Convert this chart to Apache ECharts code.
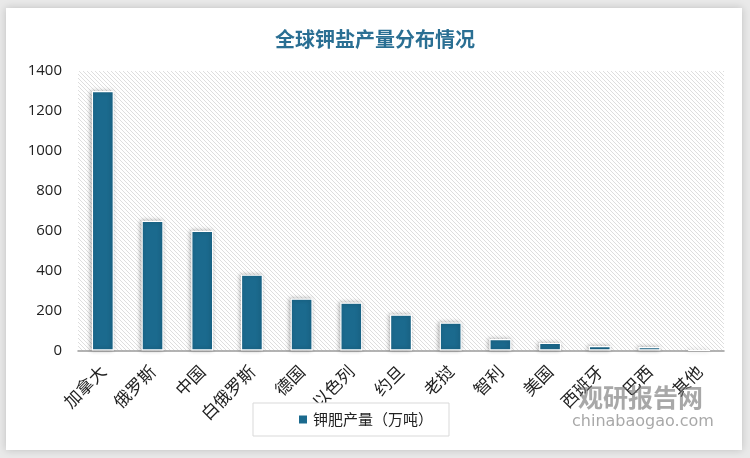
<!DOCTYPE html>
<html>
<head>
<meta charset="utf-8">
<style>
html,body{margin:0;padding:0;background:#e9e9e9;}
#main{width:750px;height:458px;}
</style>
<script src="https://cdn.jsdelivr.net/npm/echarts@6/dist/echarts.min.js"></script>
</head>
<body>
<div id="main"></div>
<script>
const titleText = '全球钾盐产量分布情况';
const seriesName = '钾肥产量（万吨）';
const categories = ['加拿大','俄罗斯','中国','白俄罗斯','德国','以色列','约旦','老挝','智利','美国','西班牙','巴西','其他'];
const values = [1300, 650, 600, 380, 260, 240, 180, 140, 57, 38, 22, 17, 0];
const yTicks = {min: 0, max: 1400, interval: 200};

// hatch pattern for plot background
const pc = document.createElement('canvas');
pc.width = 4; pc.height = 4;
const pctx = pc.getContext('2d');
pctx.fillStyle = '#ffffff';
pctx.fillRect(0,0,4,4);
pctx.fillStyle = '#dedede';
for (let i = 0; i < 4; i++) pctx.fillRect(i, i, 1, 1);

const chart = echarts.init(document.getElementById('main'), null, {renderer:'canvas'});
chart.setOption({
  backgroundColor: '#e9e9e9',
  animation: false,
  graphic: [
    {type:'rect', shape:{x:6,y:8,width:736,height:442}, style:{fill:'#ffffff', shadowBlur:8, shadowColor:'rgba(0,0,0,0.18)'}, z:-10, silent:true},
    {type:'text', left:578, top:385, style:{text:'观研报告网', font:'bold 25px "Noto Sans CJK SC"', fill:'rgba(110,110,110,0.6)'}, z:1},
    {type:'text', left:572, top:414, style:{text:'chinabaogao.com', font:'16px "DejaVu Sans"', fill:'rgba(110,110,110,0.6)'}, z:1}
  ],
  title: {
    text: titleText,
    left: 'center',
    top: 24,
    textStyle: {color:'#2a6f93', fontSize:20, fontWeight:'bold', fontFamily:'"Noto Sans CJK SC"'}
  },
  grid: {
    left: 78, right: 26, top: 71, bottom: 107.5,
    show: true,
    backgroundColor: {image: pc, repeat: 'repeat'},
    borderWidth: 0
  },
  legend: {
    data: [seriesName],
    left: 253, top: 403,
    width: 210, height: 34,
    padding: [9, 16, 9, 44],
    itemWidth: 10, itemHeight: 10,
    icon: 'rect',
    borderColor: '#d9d9d9', borderWidth: 1,
    backgroundColor: '#ffffff',
    textStyle: {fontSize: 15, color: '#222', fontFamily:'"Noto Sans CJK SC"'}
  },
  xAxis: {
    type: 'category',
    data: categories,
    axisLine: {lineStyle: {color:'#9a9a9a', width:1.5}},
    axisTick: {show:false},
    axisLabel: {rotate: 45, interval: 0, fontSize: 17, color:'#222', margin: 18, fontFamily:'"Noto Sans CJK SC"'}
  },
  yAxis: {
    type: 'value',
    min: yTicks.min, max: yTicks.max, interval: yTicks.interval,
    axisLine: {show:false},
    axisTick: {show:false},
    splitLine: {show:false},
    axisLabel: {fontSize: 15, color:'#222', margin: 16, fontFamily:'"Open Sans"', formatter: v => String(v)}
  },
  series: [{
    name: seriesName,
    type: 'bar',
    data: values,
    barWidth: 22,
    itemStyle: {
      color: '#1b6a8e',
      borderColor: '#ffffff',
      borderWidth: 1.2,
      shadowBlur: 4,
      shadowColor: 'rgba(0,0,0,0.3)',
      shadowOffsetX: -1,
      shadowOffsetY: 0
    }
  }]
});
</script>
</body>
</html>
